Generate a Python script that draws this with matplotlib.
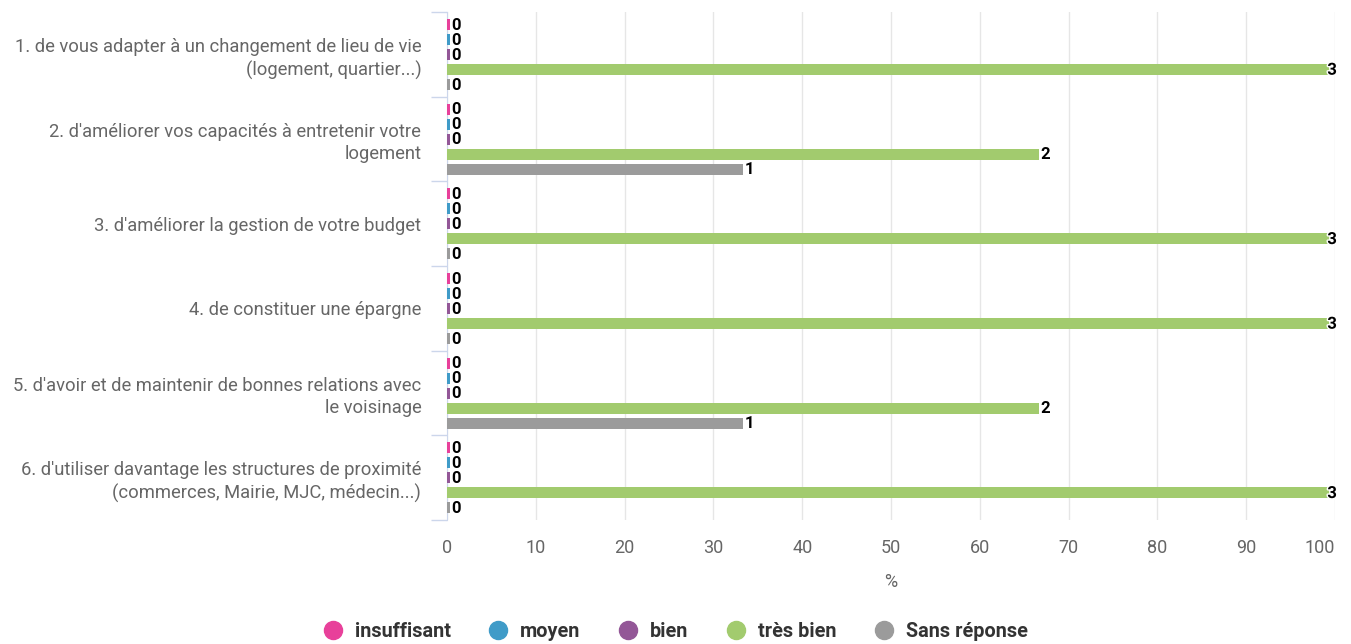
import numpy as np
import matplotlib.pyplot as plt
import matplotlib.patheffects as pe
from matplotlib.lines import Line2D

plt.rcParams['font.family'] = ['Roboto', 'DejaVu Sans']

# Data
categories = [
    "1. de vous adapter à un changement de lieu de vie\n(logement, quartier...)",
    "2. d'améliorer vos capacités à entretenir votre\nlogement",
    "3. d'améliorer la gestion de votre budget",
    "4. de constituer une épargne",
    "5. d'avoir et de maintenir de bonnes relations avec\nle voisinage",
    "6. d'utiliser davantage les structures de proximité\n(commerces, Mairie, MJC, médecin...)",
]
series_names = ["insuffisant", "moyen", "bien", "très bien", "Sans réponse"]
series_colors = ["#e8409a", "#3f9bc8", "#935797", "#a2cb6e", "#9b9b9b"]
counts = {
    "insuffisant": [0, 0, 0, 0, 0, 0],
    "moyen": [0, 0, 0, 0, 0, 0],
    "bien": [0, 0, 0, 0, 0, 0],
    "très bien": [3, 2, 3, 3, 2, 3],
    "Sans réponse": [0, 1, 0, 0, 1, 0],
}
total = 3

fig = plt.figure(figsize=(13.51, 6.44), dpi=100)
ax = fig.add_axes([0.3309, 0.1925, 0.6573, 0.7888])

n_cat = len(categories)
y_centers = np.arange(n_cat)
spacing = 0.177
bar_h = 0.13

for i, name in enumerate(series_names):
    vals = np.array(counts[name]) / total * 100
    ypos = y_centers + (i - 2) * spacing
    widths = np.where(vals == 0, 0.3, vals)
    ax.barh(ypos, widths, height=bar_h, color=series_colors[i], zorder=3)
    for y, v, c in zip(ypos, vals, counts[name]):
        if v >= 99:
            t = ax.text(v + 0.2, y + 0.01, str(c), ha='right', va='center',
                        fontsize=12, fontweight='bold', color='black', zorder=5)
            t.set_path_effects([pe.withStroke(linewidth=2, foreground='white')])
        else:
            ax.text(max(v, 0.3) + 0.2, y + 0.01, str(c), ha='left', va='center',
                    fontsize=12, fontweight='bold', color='black', zorder=5)

ax.set_xlim(0, 100)
ax.set_ylim(n_cat - 0.5, -0.5)
ax.set_xticks(np.arange(0, 101, 10))
ax.tick_params(axis='x', length=0, labelsize=13, labelcolor='#666666', pad=14)
ax.get_xticklabels()[-1].set_horizontalalignment('right')
ax.get_xticklabels()[-1].set_x(100.4)
ax.grid(axis='x', color='#e6e6e6', linewidth=1, zorder=0)
ax.set_xlabel('%', fontsize=13, color='#666666', labelpad=11)

# category ticks at boundaries, labels at centers
ax.set_yticks(np.arange(-0.5, n_cat, 1))
ax.set_yticklabels([])
ax.tick_params(axis='y', length=11.5, color='#ccd6eb', width=1)
ax.set_yticks(y_centers, minor=True)
ax.set_yticklabels(categories, minor=True, fontsize=13.2, color='#666666',
                   linespacing=1.3)
ax.tick_params(axis='y', which='minor', length=0, pad=18.5)

for s in ['top', 'right', 'bottom']:
    ax.spines[s].set_visible(False)
ax.spines['left'].set_color('#ccd6eb')

handles = [Line2D([0], [0], marker='o', linestyle='', markersize=13,
                  markerfacecolor=c, markeredgecolor=c) for c in series_colors]
leg = fig.legend(handles, series_names, loc='center', bbox_to_anchor=(0.5, 0.019),
                 ncol=5, frameon=False, handlelength=1.0, handletextpad=0.6,
                 columnspacing=1.9, prop={'size': 14.3, 'weight': 'bold'})
for t in leg.get_texts():
    t.set_color('#333333')

fig.savefig('out.png', dpi=100)
